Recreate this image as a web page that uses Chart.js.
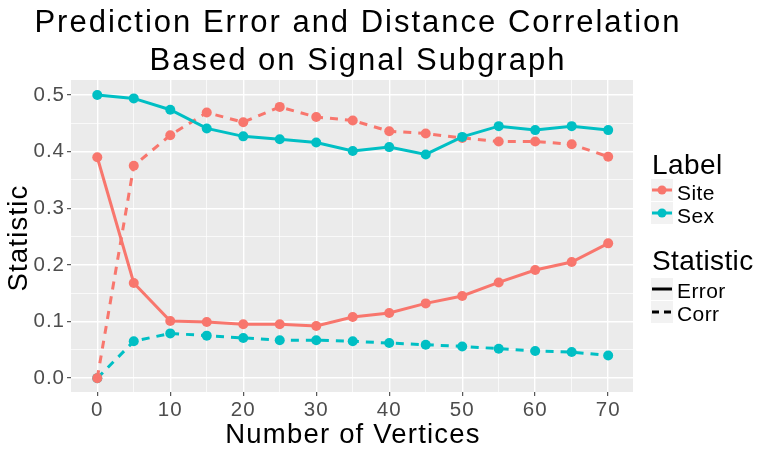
<!DOCTYPE html>
<html lang="en">
<head>
  <meta charset="UTF-8" />
  <title>Prediction Error and Distance Correlation</title>
  <script src="https://cdn.jsdelivr.net/npm/chart.js"></script>
  <style>
    html, body { margin: 0; padding: 0; background: #fff; }
    #wrap { width: 766px; height: 450px; }
  </style>
</head>
<body>
  <div id="wrap"><canvas id="chart" width="766" height="450"></canvas></div>

  <script>
    // Values
    const vertices = [0, 5, 10, 15, 20, 25, 30, 35, 40, 45, 50, 55, 60, 65, 70];
    const siteError = [0.390, 0.168, 0.101, 0.099, 0.095, 0.095, 0.092, 0.108, 0.115, 0.132, 0.145, 0.169, 0.191, 0.205, 0.238];
    const siteCorr  = [0.000, 0.375, 0.429, 0.469, 0.452, 0.479, 0.461, 0.455, 0.436, 0.432, 0.424, 0.418, 0.418, 0.413, 0.391];
    const sexError  = [0.500, 0.494, 0.474, 0.441, 0.427, 0.422, 0.416, 0.401, 0.408, 0.395, 0.426, 0.445, 0.438, 0.445, 0.438];
    const sexCorr   = [0.000, 0.065, 0.079, 0.075, 0.071, 0.067, 0.067, 0.065, 0.062, 0.059, 0.056, 0.052, 0.048, 0.046, 0.040];

    const xTicks = [0, 5, 10, 15, 20, 25, 30, 35, 40, 45, 50, 55, 60, 65, 70];
    const yTicks = [0, 0.05, 0.1, 0.15, 0.2, 0.25, 0.3, 0.35, 0.4, 0.45, 0.5];

    const labelNames = ['Site', 'Sex'];
    const statNames = ['Error', 'Corr'];

    const RED = '#F8766D';
    const TEAL = '#00BFC4';
    const FONT = '"Liberation Sans", Arial, sans-serif';
    const DASH = [8, 7];

    const pts = ys => vertices.map((v, i) => ({ x: v, y: ys[i] }));

    function series(label, ys, color, dashed) {
      return {
        label: label,
        data: pts(ys),
        borderColor: color,
        backgroundColor: color,
        borderWidth: 3,
        borderDash: dashed ? DASH : [],
        pointRadius: 5,
        pointHoverRadius: 5,
        pointBorderWidth: 0,
        pointBackgroundColor: color,
        tension: 0
      };
    }

    const isMajorX = v => v % 10 === 0;
    const isMajorY = v => Math.round(v * 100) % 10 === 0;

    // grey panel behind the grid; wider letter spacing like the original's text
    const panelBg = {
      id: 'panelBg',
      beforeDraw(chart) {
        const a = chart.chartArea, c = chart.ctx;
        c.letterSpacing = '1px';
        c.save();
        c.fillStyle = '#EBEBEB';
        c.fillRect(a.left, a.top, a.right - a.left, a.bottom - a.top);
        c.restore();
      }
    };

    // titles and the two legends, placed like ggplot does
    const decorations = {
      id: 'decorations',
      afterDraw(chart) {
        const c = chart.ctx;
        c.save();
        c.fillStyle = '#000';
        c.textBaseline = 'alphabetic';

        c.font = '31px ' + FONT;
        c.letterSpacing = '2px';
        c.textAlign = 'center';
        c.fillText('Prediction Error and Distance Correlation', 358, 32);
        c.fillText('Based on Signal Subgraph', 358, 70);

        c.font = '27.5px ' + FONT;
        c.letterSpacing = '1.2px';
        c.fillText('Number of Vertices', 353, 443);

        c.save();
        c.translate(27, 238);
        c.rotate(-Math.PI / 2);
        c.fillText('Statistic', 0, 0);
        c.restore();

        // legend: Label
        c.textAlign = 'left';
        c.letterSpacing = '0.4px';
        c.font = '28px ' + FONT;
        c.fillText('Label', 652, 174);
        const colors = [RED, TEAL];
        labelNames.forEach((name, i) => {
          const top = 179 + i * 23;
          c.fillStyle = '#F2F2F2';
          c.fillRect(651, top, 22, 22);
          c.strokeStyle = colors[i];
          c.lineWidth = 3;
          c.setLineDash([]);
          c.beginPath();
          c.moveTo(652, top + 11);
          c.lineTo(672, top + 11);
          c.stroke();
          c.fillStyle = colors[i];
          c.beginPath();
          c.arc(662, top + 11, 4.5, 0, Math.PI * 2);
          c.fill();
          c.fillStyle = '#000';
          c.font = '21px ' + FONT;
          c.fillText(name, 677, top + 21);
        });

        // legend: Statistic
        c.font = '28px ' + FONT;
        c.fillText('Statistic', 652, 270);
        statNames.forEach((name, i) => {
          const top = 278 + i * 23;
          c.fillStyle = '#F2F2F2';
          c.fillRect(651, top, 22, 22);
          c.strokeStyle = '#000';
          c.lineWidth = 3;
          c.setLineDash(i === 0 ? [] : [7, 5]);
          c.beginPath();
          c.moveTo(652, top + 11);
          c.lineTo(672, top + 11);
          c.stroke();
          c.setLineDash([]);
          c.fillStyle = '#000';
          c.font = '21px ' + FONT;
          c.fillText(name, 677, top + 20);
        });
        c.restore();
      }
    };

    new Chart(document.getElementById('chart'), {
      type: 'line',
      data: {
        datasets: [
          series('Site Error', siteError, RED, false),
          series('Sex Error', sexError, TEAL, false),
          series('Site Corr', siteCorr, RED, true),
          series('Sex Corr', sexCorr, TEAL, true)
        ]
      },
      options: {
        responsive: false,
        animation: false,
        devicePixelRatio: 1,
        layout: { padding: { top: 80, right: 133, left: 0, bottom: 0 } },
        plugins: {
          legend: { display: false },
          title: { display: false },
          tooltip: { enabled: false }
        },
        scales: {
          x: {
            type: 'linear',
            min: -3.6,
            max: 73.4,
            afterBuildTicks: s => { s.ticks = xTicks.map(v => ({ value: v })); },
            afterFit: s => { s.height = 58; },
            border: { display: false },
            grid: {
              color: '#FFFFFF',
              lineWidth: ctx => isMajorX(ctx.tick.value) ? 1.4 : 0.7,
              tickColor: ctx => isMajorX(ctx.tick.value) ? '#333333' : 'rgba(0,0,0,0)',
              tickLength: 4,
              tickWidth: 1
            },
            ticks: {
              autoSkip: false,
              maxRotation: 0,
              padding: 2,
              color: '#4D4D4D',
              font: { family: FONT, size: 20.5 },
              callback: v => isMajorX(v) ? String(v) : ''
            }
          },
          y: {
            min: -0.0245,
            max: 0.5265,
            afterBuildTicks: s => { s.ticks = yTicks.map(v => ({ value: v })); },
            afterFit: s => { s.width = 71; },
            border: { display: false },
            grid: {
              color: '#FFFFFF',
              lineWidth: ctx => isMajorY(ctx.tick.value) ? 1.4 : 0.7,
              tickColor: ctx => isMajorY(ctx.tick.value) ? '#333333' : 'rgba(0,0,0,0)',
              tickLength: 4,
              tickWidth: 1
            },
            ticks: {
              autoSkip: false,
              padding: 2,
              color: '#4D4D4D',
              font: { family: FONT, size: 20.5 },
              callback: v => isMajorY(v) ? v.toFixed(1) : ''
            }
          }
        }
      },
      plugins: [panelBg, decorations]
    });
  </script>
</body>
</html>
